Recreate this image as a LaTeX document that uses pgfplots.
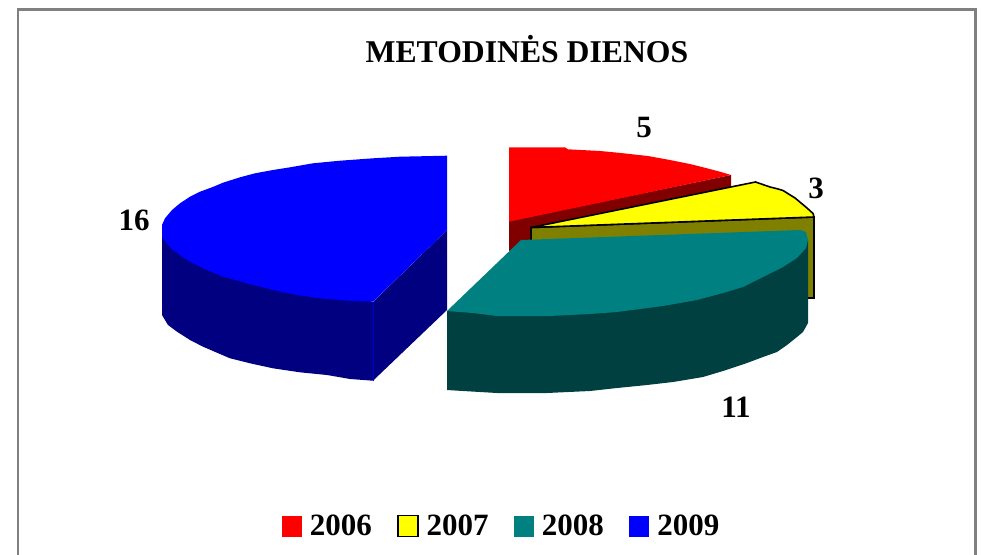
\documentclass[border=0pt]{standalone}
\usepackage{fontspec}
\setmainfont{Liberation Serif}
\usepackage{pgfplots}
\pgfplotsset{compat=1.18}
\definecolor{redside}{HTML}{800000}
\definecolor{yellowtop}{HTML}{FFFF00}
\definecolor{olive3d}{HTML}{808000}
\definecolor{tealtop}{HTML}{008080}
\definecolor{tealside}{HTML}{004040}
\definecolor{blueside}{HTML}{000080}
\begin{document}
\begin{tikzpicture}
\begin{axis}[
  width=981pt, height=554pt, scale only axis,
  xmin=0, xmax=981, ymin=0, ymax=554,
  y dir=reverse, clip=true,
  xtick=\empty, ytick=\empty, axis line style={draw=none},
  legend columns=4,
  legend style={
    at={(axis cs:500.5,526)}, anchor=center, draw=none, fill=none,
    font=\fontsize{31}{31}\selectfont\bfseries,
    inner sep=0pt, outer sep=0pt,
    nodes={inner sep=0pt, outer sep=0pt},
    /tikz/every even column/.append style={column sep=25.3pt},
    /tikz/every odd column/.append style={column sep=8pt},
  },
  legend cell align=left,
  legend image code/.code={
    \path[#1] (0pt,-10.5pt) rectangle (20pt,10.5pt);
  },
]
% chart frame
\addplot[color=gray, line width=2.5pt, forget plot] coordinates {(18,570) (18,9.5) (975.5,9.5) (975.5,570)};

% 2006
\addplot[fill=redside, draw=none, forget plot] coordinates {(509,221) (731,175) (731,190) (540,238) (525,245) (509,251)} -- cycle;
\addplot[fill=red, draw=none] coordinates {(509,147.3) (565,147.3) (568,149.3) (600,151) (618,152.7) (630,154) (648,156) (670,160) (690,164) (707,168.3) (720,171.7) (731,175) (509,221.7)} -- cycle;
\addlegendentry{2006}

% 2007
\addplot[fill=olive3d, draw=black, line width=1.6pt, forget plot] coordinates {(531,227.5) (814,217) (814,298) (531,298)} -- cycle;
\addplot[fill=yellowtop, draw=black, line width=1.6pt] coordinates {(531,227.5) (755.5,182) (770,187) (777,188.7) (783,190.5) (795,198) (807,208) (813,213.5) (814,217)} -- cycle;
\addlegendentry{2007}

% 2008
\addplot[fill=tealside, draw=none, forget plot] coordinates {(447,311) (808,240) (808,323) (803,332) (797,337) (787,345) (777,352) (763,357) (747,363) (723,371) (703,377) (673,382) (647,385) (617,388) (590,391) (547,393) (497,393) (463,391) (447,390)} -- cycle;
\addplot[fill=tealtop, draw=none] coordinates {(447,311) (521,240) (800,230) (806,232) (808,240) (806,248) (797,258) (783,267) (763,277) (743,287) (723,293) (697,300) (663,306) (640,309) (617,312) (590,314) (550,316) (520,316) (497,316) (473,313)} -- cycle;
\addlegendentry{2008}

% 2009
\addplot[fill=blueside, draw=none, forget plot] coordinates {(162,237) (162,315) (168,325) (177,331.7) (190,340) (203,346.7) (230,358.3) (250,363.3) (273,368.3) (300,372.3) (327,375) (350,379) (373,380.7) (447,310) (447,230) (373,302)} -- cycle;
\addplot[fill=blue, draw=none] coordinates {(447,155.7) (400,156.7) (373,158.3) (340,160.7) (313,163.3) (290,167.3) (273,170) (255,173.3) (240,177.3) (223,182.7) (212,187.3) (200,191.7) (190,196.7) (180,203.3) (172,210) (165,218.3) (162,225) (162,236.7) (168,245) (173,250) (183,257.3) (193,263.3) (207,270) (223,276.7) (247,283.3) (273,290) (297,295) (320,298.3) (347,300.7) (373,301.7) (447,230)} -- cycle;
\addlegendentry{2009}
\addplot[color=blue!60!blueside, line width=0.4pt, forget plot] coordinates {(373,302) (373,381)};

% title and value labels
\node[font=\fontsize{31.7}{32}\selectfont\bfseries] at (axis cs:527,49.5) {METODINĖS DIENOS};
\node[font=\fontsize{31}{31}\selectfont\bfseries] at (axis cs:644,127) {5};
\node[font=\fontsize{31}{31}\selectfont\bfseries] at (axis cs:816,188) {3};
\node[font=\fontsize{31}{31}\selectfont\bfseries] at (axis cs:134,220) {16};
\node[font=\fontsize{31}{31}\selectfont\bfseries] at (axis cs:736,407) {11};
\end{axis}
\end{tikzpicture}
\end{document}
